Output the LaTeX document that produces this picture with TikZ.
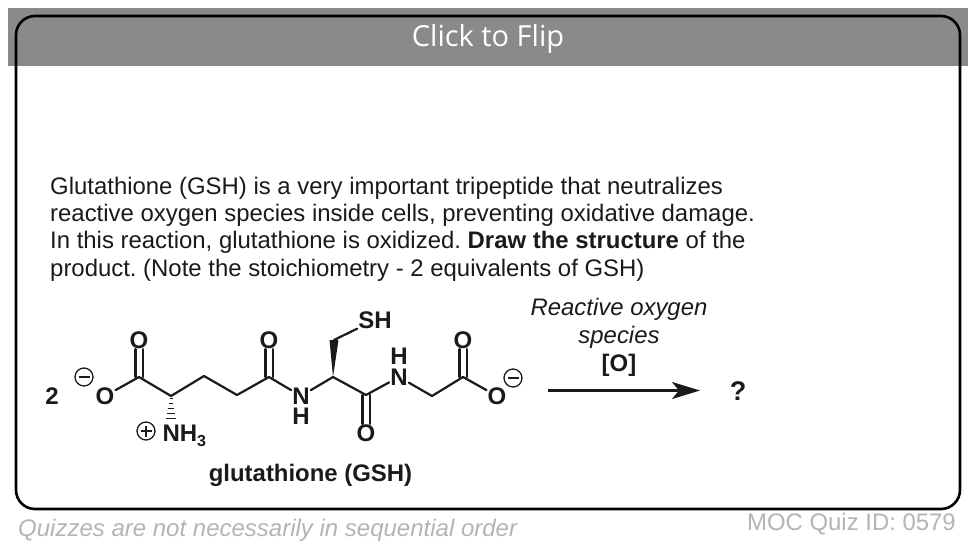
\documentclass[tikz,border=0pt]{standalone}
\usepackage{fontspec}
\setmainfont{Liberation Sans}
\newfontfamily\headfont{Open Sans}
\usetikzlibrary{arrows.meta,calc}
\definecolor{hdr}{HTML}{8A8A8A}
\definecolor{foot}{HTML}{B4B4B4}
\definecolor{ink}{HTML}{1A1A1A}
\tikzset{
  bond/.style={line width=2.2pt,color=ink,line cap=round,line join=round},
  atom/.style={font=\fontsize{24}{24}\selectfont\bfseries,text=ink,inner xsep=1.2pt,inner ysep=0.8pt,outer sep=0pt,text height=16.5pt,text depth=0pt},
  bodytxt/.style={anchor=base west,inner sep=0pt,text=ink,font=\fontsize{23.92}{24}\selectfont},
  rxntxt/.style={anchor=base,inner sep=0pt,text=ink,font=\fontsize{23.92}{24}\selectfont},
  charge/.style={circle,draw=ink,line width=1.3pt,minimum size=18pt,inner sep=0pt},
}
\begin{document}
\frenchspacing
\begin{tikzpicture}[x=1pt,y=-1pt]
\useasboundingbox (0,0) rectangle (976,548);
\fill[white] (0,0) rectangle (976,548);
\fill[hdr] (8,8) rectangle (968,66);
\draw[black,line width=2.6pt,rounded corners=19pt] (16,16) rectangle (960,509);
\node[anchor=base,inner sep=0pt,text=white,font=\headfont\fontsize{29}{29}\selectfont] (title) at (488,47) {Click to Flip};
\node[bodytxt] (l1) at (50,194) {Glutathione (GSH) is a very important tripeptide that neutralizes};
\node[bodytxt] (l2) at (50,221) {reactive oxygen species inside cells, preventing oxidative damage.};
\node[bodytxt] (l3) at (50,248) {In this reaction, glutathione is oxidized. \textbf{Draw the structure} of the};
\node[bodytxt] (l4) at (50,276) {product. (Note the stoichiometry - 2 equivalents of GSH)};
% skeleton
\coordinate (c1) at (139,377);
\coordinate (ca) at (171,396);
\coordinate (c3) at (204,376);
\coordinate (c4) at (237,395);
\coordinate (c5) at (269,377);
\coordinate (cb) at (333,377);
\coordinate (cs) at (334,340);
\coordinate (c6) at (366,395);
\coordinate (c7) at (432,396);
\coordinate (c8) at (463,377);
\node[atom] (two) at (52,396) {2};
\node[atom] (om1) at (105,396) {O};
\node[charge] (mi1) at (84,377) {};
\node[atom] (o1) at (139,340) {O};
\node[atom,anchor=base west,inner sep=0pt] (nh3) at (162.5,441) {NH\raisebox{-5.5pt}{\fontsize{16}{16}\selectfont 3}};
\node[charge] (pl) at (146,431) {};
\node[atom] (o2) at (269,340) {O};
\node[atom] (n1) at (301,396) {N};
\node[atom] (h1) at (301,416) {H};
\node[atom] (sh) at (375,320) {SH};
\node[atom] (o3) at (366,433) {O};
\node[atom] (n2) at (399,377) {N};
\node[atom] (h2) at (399,356) {H};
\node[atom] (o4) at (463,340) {O};
\node[atom] (om2) at (497,396) {O};
\node[charge] (mi2) at (513,378) {};
% charges
\draw[ink,line width=1.5pt] ([xshift=-5.5pt]mi1.center) -- ([xshift=5.5pt]mi1.center);
\draw[ink,line width=1.5pt] ([xshift=-5.5pt]mi2.center) -- ([xshift=5.5pt]mi2.center);
\draw[ink,line width=1.5pt] ([xshift=-5.5pt]pl.center) -- ([xshift=5.5pt]pl.center);
\draw[ink,line width=1.5pt] ([yshift=-5.5pt]pl.center) -- ([yshift=5.5pt]pl.center);
% bonds
\draw[bond] (om1) -- (c1) -- (ca) -- (c3) -- (c4) -- (c5) -- (n1);
\draw[bond] (n1) -- (cb) -- (c6) -- (n2);
\draw[bond] (n2) -- (c7) -- (c8) -- (om2);
\draw[bond] (cs) -- (sh);
\foreach \a/\b in {c1/o1,c5/o2,c8/o4}{
  \draw[bond] ([xshift=-3.6pt]\a) -- ([xshift=-3.6pt]\b.south);
  \draw[bond] ([xshift=3.6pt]\a) -- ([xshift=3.6pt]\b.south);
}
\draw[bond] ([xshift=-3.6pt]c6) -- ([xshift=-3.6pt]o3.north);
\draw[bond] ([xshift=3.6pt]c6) -- ([xshift=3.6pt]o3.north);
% wedge
\fill[ink] (cb) -- ([xshift=-4.5pt]cs) -- ([xshift=4.5pt]cs) -- cycle;
% hash bond
\foreach \t/\w in {0.10/1.5,0.30/2.4,0.50/3.2,0.70/4.2,0.90/5.2}{
  \draw[ink,line width=1.7pt] ($(ca)+(-\w,\t*25)$) -- ($(ca)+(\w,\t*25)$);
}
% reaction
\coordinate (as) at (548,390.5);
\coordinate (ae) at (700,390.5);
\draw[ink,line width=2.4pt,-{Stealth[length=28pt,width=17pt,inset=7pt]}] (as) -- (ae);
\node[rxntxt,font=\fontsize{23.92}{24}\selectfont\itshape] (r1) at (619,315) {Reactive oxygen};
\node[rxntxt,font=\fontsize{23.92}{24}\selectfont\itshape] (r2) at (619,343) {species};
\node[rxntxt,font=\fontsize{23.92}{24}\selectfont\bfseries] (r3) at (619,371) {[O]};
\node[rxntxt,font=\fontsize{27}{27}\selectfont\bfseries] (q) at (738,400) {?};
\node[rxntxt,font=\fontsize{23.92}{24}\selectfont\bfseries] (cap) at (310.5,481) {glutathione (GSH)};
% footer
\node[anchor=base west,inner sep=0pt,text=foot,font=\fontsize{24}{24}\selectfont\itshape] (f1) at (18,536) {Quizzes are not necessarily in sequential order};
\node[anchor=base east,inner sep=0pt,text=foot,font=\fontsize{23.92}{24}\selectfont] (f2) at (956,530) {MOC Quiz ID: 0579};
\end{tikzpicture}
\end{document}
